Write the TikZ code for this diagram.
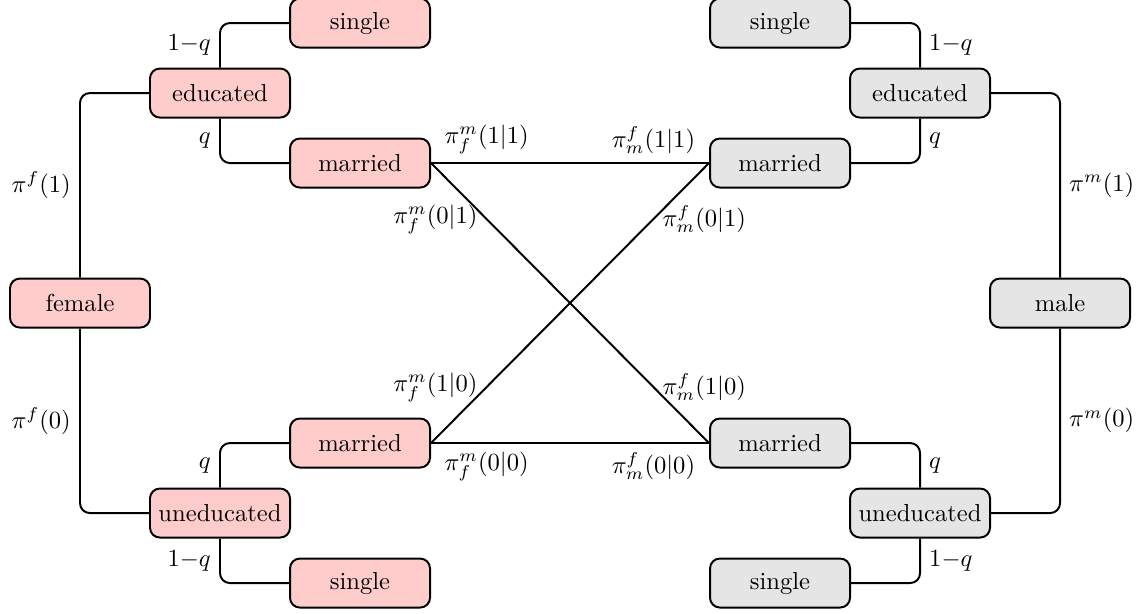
\documentclass[tikz,border=0pt]{standalone}
\begin{document}
\begin{tikzpicture}[
  box/.style={draw, thick, rounded corners=4pt, minimum width=2cm, minimum height=0.7cm, inner sep=2pt},
  fbox/.style={box, fill=red!20},
  mbox/.style={box, fill=gray!20},
  conn/.style={thick, rounded corners=4pt},
  cross/.style={thick}
]
\useasboundingbox (-1.143,-4.429) rectangle (15.214,4.329);
% female side
\node[fbox] (female) at (0,0) {female};
\node[fbox] (eduF) at (2,3) {educated};
\node[fbox] (singleFa) at (4,4) {single};
\node[fbox] (marFa) at (4,2) {married};
\node[fbox] (uneduF) at (2,-3) {uneducated};
\node[fbox] (marFb) at (4,-2) {married};
\node[fbox] (singleFb) at (4,-4) {single};
% male side
\node[mbox] (male) at (14,0) {male};
\node[mbox] (eduM) at (12,3) {educated};
\node[mbox] (singleMa) at (10,4) {single};
\node[mbox] (marMa) at (10,2) {married};
\node[mbox] (uneduM) at (12,-3) {uneducated};
\node[mbox] (marMb) at (10,-2) {married};
\node[mbox] (singleMb) at (10,-4) {single};
% female tree
\draw[conn] (female.north) |- (eduF.west) node[pos=0.25,left] (lpf1) {$\pi^f(1)$};
\draw[conn] (female.south) |- (uneduF.west) node[pos=0.25,left] (lpf0) {$\pi^f(0)$};
\draw[conn] (eduF.north) |- (singleFa.west) node[pos=0.25,left] (lqa) {$1{-}q$};
\draw[conn] (eduF.south) |- (marFa.west) node[pos=0.25,left] (lqb) {$q$};
\draw[conn] (uneduF.north) |- (marFb.west) node[pos=0.25,left] (lqc) {$q$};
\draw[conn] (uneduF.south) |- (singleFb.west) node[pos=0.25,left] (lqd) {$1{-}q$};
% male tree
\draw[conn] (eduM.east) -| (male.north) node[pos=0.75,right] (lpm1) {$\pi^m(1)$};
\draw[conn] (uneduM.east) -| (male.south) node[pos=0.75,right] (lpm0) {$\pi^m(0)$};
\draw[conn] (singleMa.east) -| (eduM.north) node[pos=0.75,right] (lqe) {$1{-}q$};
\draw[conn] (marMa.east) -| (eduM.south) node[pos=0.75,right] (lqf) {$q$};
\draw[conn] (marMb.east) -| (uneduM.north) node[pos=0.75,right] (lqg) {$q$};
\draw[conn] (singleMb.east) -| (uneduM.south) node[pos=0.75,right] (lqh) {$1{-}q$};
% matching
\draw[cross] (marFa.east) -- (marMa.west)
  node[pos=0.2,above] (l11a) {$\pi_f^m(1|1)$}
  node[pos=0.8,above] (l11b) {$\pi_m^f(1|1)$};
\draw[cross] (marFa.east) -- (marMb.west)
  node[pos=0.2,left] (l01a) {$\pi_f^m(0|1)$}
  node[pos=0.8,right] (l10b) {$\pi_m^f(1|0)$};
\draw[cross] (marFb.east) -- (marMa.west)
  node[pos=0.2,left] (l10a) {$\pi_f^m(1|0)$}
  node[pos=0.8,right] (l01b) {$\pi_m^f(0|1)$};
\draw[cross] (marFb.east) -- (marMb.west)
  node[pos=0.2,below] (l00a) {$\pi_f^m(0|0)$}
  node[pos=0.8,below] (l00b) {$\pi_m^f(0|0)$};
\end{tikzpicture}
\end{document}
